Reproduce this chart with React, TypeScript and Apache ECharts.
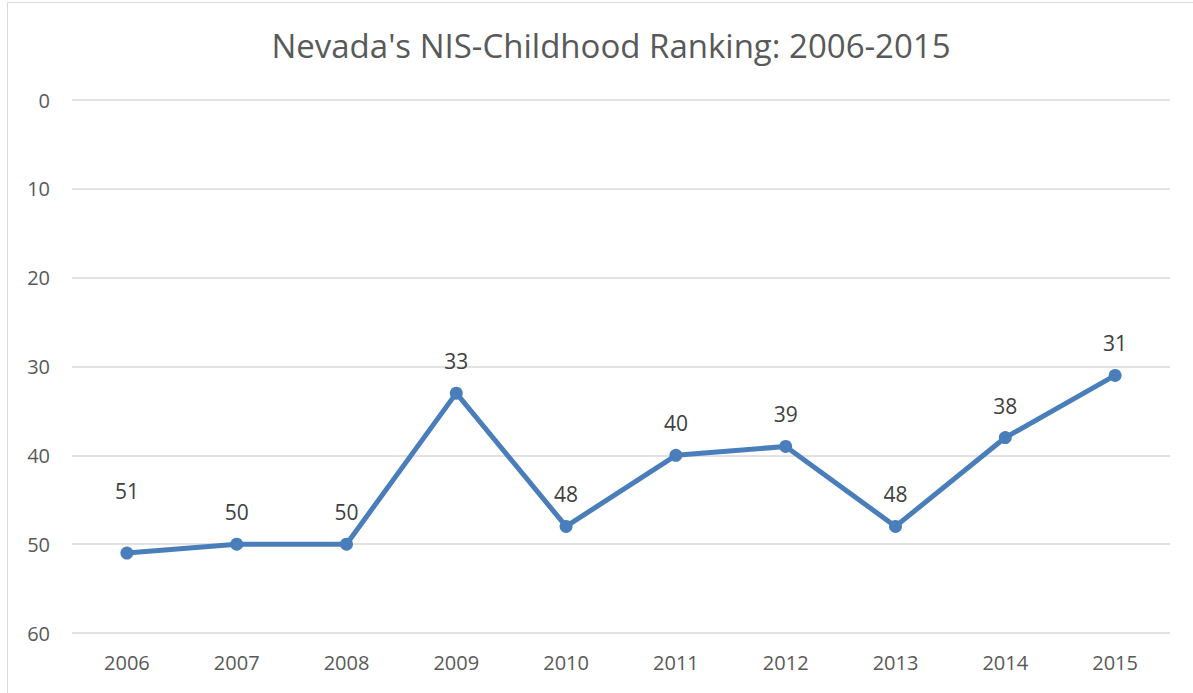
import React, { useEffect, useRef } from "react";
import * as echarts from "echarts";

const years = ["2006", "2007", "2008", "2009", "2010", "2011", "2012", "2013", "2014", "2015"];
const ranks = [51, 50, 50, 33, 48, 40, 39, 48, 38, 31];
const titleText = "Nevada's NIS-Childhood Ranking: 2006-2015";

export default function App() {
  const ref = useRef<HTMLDivElement>(null);
  useEffect(() => {
    const chart = echarts.init(ref.current!, null, { renderer: "svg" });
    const font = "'Open Sans', 'Noto Sans', sans-serif";
    const seriesData = ranks.map((v, i) =>
      i === 0 ? { value: v, label: { distance: 45 } } : { value: v }
    );
    chart.setOption({
      animation: false,
      backgroundColor: "#ffffff",
      title: {
        text: titleText,
        left: 606,
        textAlign: "center",
        top: 24,
        textStyle: { color: "#595959", fontSize: 33, fontWeight: "normal", fontFamily: font },
      },
      graphic: [
        {
          type: "rect",
          shape: { x: 7.5, y: 2.5, width: 1250, height: 750 },
          style: { fill: "none", stroke: "#d9d9d9", lineWidth: 1 },
          silent: true,
        },
      ],
      grid: { left: 72, right: 23, top: 100, bottom: 60 },
      xAxis: {
        type: "category",
        data: years,
        boundaryGap: true,
        axisLine: { show: false },
        axisTick: { show: false },
        axisLabel: { color: "#595959", fontSize: 20, fontFamily: font, margin: 19 },
      },
      yAxis: {
        type: "value",
        inverse: true,
        min: 0,
        max: 60,
        interval: 10,
        axisLine: { show: false },
        axisTick: { show: false },
        axisLabel: { color: "#595959", fontSize: 20, fontFamily: font, margin: 22 },
        splitLine: { lineStyle: { color: "#d9d9d9", width: 1.5 } },
      },
      series: [
        {
          type: "line",
          data: seriesData,
          symbol: "circle",
          symbolSize: 13,
          lineStyle: { color: "#4a7ebb", width: 5 },
          itemStyle: { color: "#4a7ebb" },
          label: {
            show: true,
            position: "top",
            distance: 15,
            color: "#404040",
            fontSize: 21,
            fontFamily: font,
          },
        },
      ],
    });
    return () => chart.dispose();
  }, []);
  return <div ref={ref} style={{ position: "absolute", left: 0, top: 0, width: 1193, height: 693 }} />;
}
